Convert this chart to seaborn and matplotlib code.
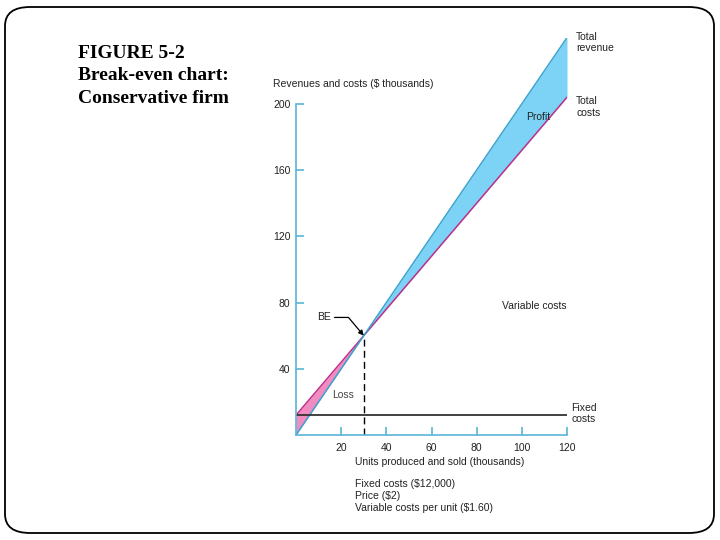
import matplotlib.pyplot as plt
import seaborn as sns
import pandas as pd
import numpy as np
from matplotlib.patches import FancyBboxPatch

# break-even data (thousands)
units = [0, 30, 120]
revenue = [0, 60, 240]
total_costs = [12, 60, 204]
fixed_costs = [12, 12, 12]
x_ticks = [20, 40, 60, 80, 100, 120]
y_ticks = [40, 80, 120, 160, 200]

df = pd.DataFrame({"units": units, "revenue": revenue,
                   "total_costs": total_costs, "fixed": fixed_costs})

sns.set_style("white")
plt.rcParams['font.family'] = ['Liberation Sans', 'DejaVu Sans']

fig = plt.figure(figsize=(7.2, 5.4), dpi=100)

# slide border
border = FancyBboxPatch((5/720, 7/540), 709/720, 526/540,
                        boxstyle="round,pad=0,rounding_size=0.035",
                        transform=fig.transFigure, fill=False,
                        edgecolor="black", linewidth=1.3)
fig.patches.append(border)

fig.text(78/720, 1-76/540, "FIGURE 5-2\nBreak-even chart:\nConservative firm",
         family=['Liberation Serif'], fontweight="bold", fontsize=14,
         color="black", va="center", ha="left", linespacing=1.42)

ax = fig.add_axes([296/720, 1-435/540, (567-296)/720, (435-37.6)/540])
ax.patch.set_alpha(0)

blue_fill = "#7dd3f5"
pink_fill = "#f08cc0"
rev_col = "#3ba3d0"
cost_col = "#c0308a"
spine_col = "#5ab4d6"

x = df["units"]
ax.fill_between(x[:2], df["revenue"][:2], df["total_costs"][:2], color=pink_fill, lw=0)
ax.fill_between(x[1:], df["revenue"][1:], df["total_costs"][1:], color=blue_fill, lw=0)
sns.lineplot(data=df, x="units", y="total_costs", color=cost_col, lw=1.1, ax=ax)
sns.lineplot(data=df, x="units", y="revenue", color=rev_col, lw=1.1, ax=ax)
sns.lineplot(data=df, x="units", y="fixed", color="#333333", lw=1.3, ax=ax)
ax.plot([units[1], units[1]], [0, revenue[1]], color="black", lw=1, ls=(0, (5, 3)))

ax.set_xlim(0, 120)
ax.set_ylim(0, 240)
ax.set_xticks(x_ticks)
ax.set_yticks(y_ticks)
ax.set_xlabel("")
ax.set_ylabel("")
for s in ["top", "right"]:
    ax.spines[s].set_visible(False)
for s in ["left", "bottom"]:
    ax.spines[s].set_color(spine_col)
    ax.spines[s].set_linewidth(1.2)
ax.spines["left"].set_bounds(0, 200)
ax.tick_params(axis="both", direction="in", color=spine_col, width=1.2,
               length=6, labelsize=7.5, labelcolor="#222222",
               left=True, bottom=True)
ax.tick_params(axis="y", pad=4)
ax.tick_params(axis="x", pad=6)

fs = 7.5
tc = "#222222"
ls = 1.2
ax.text(-10, 212, "Revenues and costs ($ thousands)", fontsize=fs, color=tc, va="center")
ax.text(124, 237, "Total\nrevenue", fontsize=fs, color=tc, va="center", linespacing=ls)
ax.text(124, 198, "Total\ncosts", fontsize=fs, color=tc, va="center", linespacing=ls)
ax.text(102, 192, "Profit", fontsize=fs, color=tc, va="center")
ax.text(91, 78, "Variable costs", fontsize=fs, color=tc, va="center")
ax.text(16, 24, "Loss", fontsize=fs, color="#444444", va="center")
ax.text(122, 13, "Fixed\ncosts", fontsize=fs, color=tc, va="center", linespacing=ls)
ax.annotate("BE", xy=(30, 60), xytext=(9.5, 71), fontsize=fs, color=tc, va="center",
            arrowprops=dict(arrowstyle="-|>", color="black", lw=0.9,
                            shrinkA=0, shrinkB=0,
                            connectionstyle="angle,angleA=0,angleB=-50,rad=0"))

fig.text(355/720, 1-462/540, "Units produced and sold (thousands)", fontsize=fs,
         color=tc, va="center")
fig.text(355/720, 1-496/540,
         "Fixed costs ($12,000)\nPrice ($2)\nVariable costs per unit ($1.60)",
         fontsize=fs, color=tc, va="center", linespacing=ls)

fig.savefig("out.png", dpi=100)
